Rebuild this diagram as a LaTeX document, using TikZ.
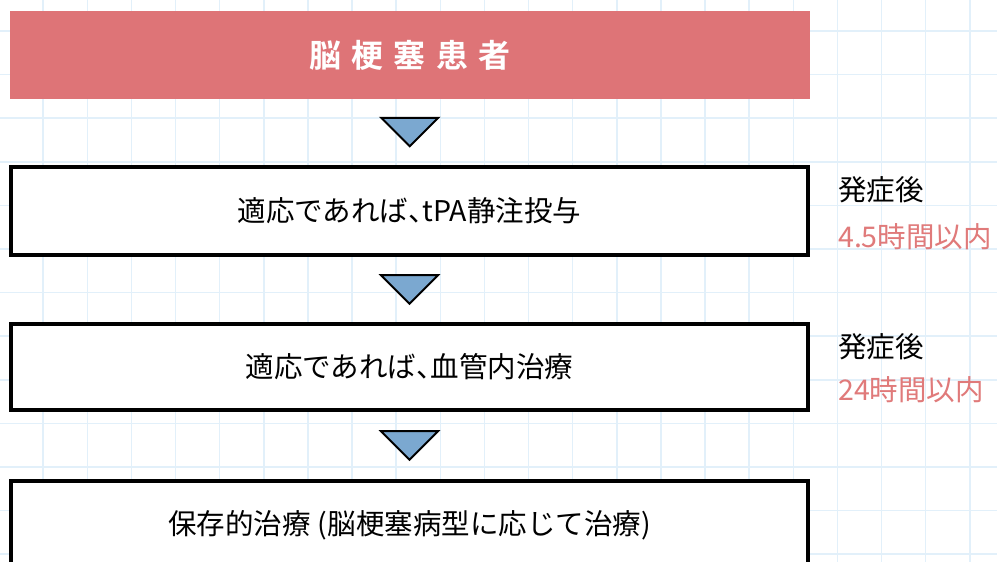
\documentclass[tikz,border=0pt]{standalone}
\usepackage{fontspec}
\setmainfont{Noto Sans CJK JP}[BoldFont={Noto Sans CJK JP Bold}]
\usetikzlibrary{calc}
\definecolor{gridblue}{HTML}{E2F0FA}
\definecolor{titlered}{HTML}{DE7477}
\definecolor{labelred}{HTML}{E07A7A}
\definecolor{triblue}{HTML}{7BA8D0}
\tikzset{
  titlebox/.style={rectangle, fill=titlered, text=white, minimum width=800pt, minimum height=88pt, inner sep=0pt, font=\fontsize{32pt}{35pt}\selectfont\bfseries},
  stepbox/.style={rectangle, draw=black, fill=white, line width=4pt, minimum width=797pt, inner sep=0pt, font=\fontsize{28.5pt}{31pt}\selectfont},
  tri/.style={draw=black, fill=triblue, line width=2pt, line join=miter},
  sidelabel/.style={anchor=west, inner sep=0pt, font=\fontsize{28.5pt}{31pt}\selectfont},
}
\begin{document}
\begin{tikzpicture}[x=1pt, y=-1pt]
\useasboundingbox (0,0) rectangle (997,562);
\clip (0,0) rectangle (997,562);
\fill[white] (0,0) rectangle (997,562);
\foreach \i in {0,...,23} {
  \draw[gridblue, line width=1.5pt] ({-1+44.13*\i},0) -- ({-1+44.13*\i},562);
}
\foreach \j in {0,...,13} {
  \draw[gridblue, line width=1.5pt] (0,{-12.6+43.6*\j}) -- (997,{-12.6+43.6*\j});
}
\node[titlebox] (title) at (410,55) {脳\hspace{10.5pt}梗\hspace{10.5pt}塞\hspace{10.5pt}患\hspace{10.5pt}者};
\node[stepbox, minimum height=88pt] (b1) at (409.5,211) {適応であれば、\hspace{-0.5em}tPA静注投与};
\node[stepbox, minimum height=86pt] (b2) at (409.5,367) {適応であれば、\hspace{-0.5em}血管内治療};
\node[stepbox, minimum height=88pt] (b3) at (409.5,525) {保存的治療\hspace{0.25em}(脳梗塞病型に応じて治療)};
\foreach \a/\b/\n in {title/b1/t1, b1/b2/t2, b2/b3/t3} {
  \coordinate (\n) at ($(\a.south)!0.5!(\b.north)$);
  \draw[tri] ($(\n)+(-28.5,-14.3)$) -- ($(\n)+(28.5,-14.3)$) -- ($(\n)+(0,14.2)$) -- cycle;
}
\node[sidelabel] (o1) at (838,190) {発症後};
\node[sidelabel, text=labelred] (h1) at (838,237) {4.5時間以内};
\node[sidelabel] (o2) at (838,347) {発症後};
\node[sidelabel, text=labelred] (h2) at (838,390) {24時間以内};
\end{tikzpicture}
\end{document}
